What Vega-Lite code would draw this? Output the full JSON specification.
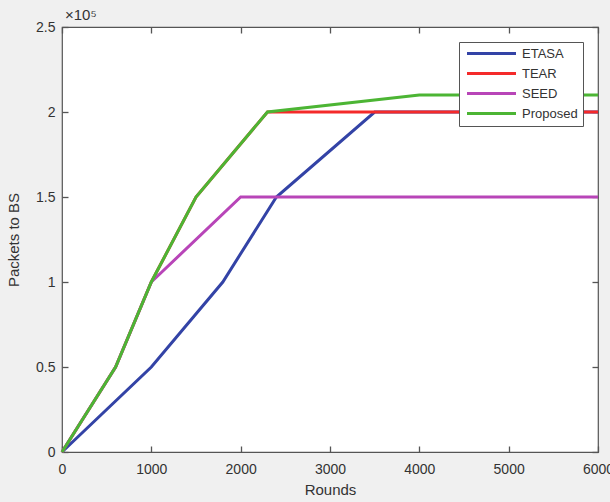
{
  "$schema": "https://vega.github.io/schema/vega-lite/v6.json",
  "width": 536,
  "height": 425,
  "autosize": {"type": "none"},
  "padding": {"left": 62, "top": 27, "right": 12, "bottom": 50},
  "background": "#f0f0f0",
  "title": {"text": "×10⁵", "anchor": "start", "frame": "group", "fontSize": 15, "fontWeight": "normal", "font": "Liberation Sans", "color": "#333333", "offset": 3, "dx": 3, "dy": 6},
  "config": {
    "view": {"fill": "white", "stroke": "#555555", "strokeWidth": 1.2},
    "font": "Liberation Sans",
    "axis": {"grid": false, "domain": false, "zindex": 1, "offset": -6, "ticks": true, "tickColor": "#555555", "tickSize": 6, "tickWidth": 1.3, "labelFont": "Liberation Sans", "labelFontSize": 14, "labelColor": "#333333", "labelFlush": false, "titleFont": "Liberation Sans", "titleFontSize": 15, "titleFontWeight": "normal", "titleColor": "#333333"}
  },
  "data": {"values": [
    {"series": "ETASA", "rounds": 0, "packets": 0},
    {"series": "ETASA", "rounds": 1000, "packets": 50000},
    {"series": "ETASA", "rounds": 1800, "packets": 100000},
    {"series": "ETASA", "rounds": 2400, "packets": 150000},
    {"series": "ETASA", "rounds": 3500, "packets": 200000},
    {"series": "ETASA", "rounds": 6000, "packets": 200000},
    {"series": "TEAR", "rounds": 0, "packets": 0},
    {"series": "TEAR", "rounds": 600, "packets": 50000},
    {"series": "TEAR", "rounds": 1000, "packets": 100000},
    {"series": "TEAR", "rounds": 1500, "packets": 150000},
    {"series": "TEAR", "rounds": 2300, "packets": 200000},
    {"series": "TEAR", "rounds": 6000, "packets": 200000},
    {"series": "SEED", "rounds": 0, "packets": 0},
    {"series": "SEED", "rounds": 600, "packets": 50000},
    {"series": "SEED", "rounds": 1000, "packets": 100000},
    {"series": "SEED", "rounds": 2000, "packets": 150000},
    {"series": "SEED", "rounds": 6000, "packets": 150000},
    {"series": "Proposed", "rounds": 0, "packets": 0},
    {"series": "Proposed", "rounds": 600, "packets": 50000},
    {"series": "Proposed", "rounds": 1000, "packets": 100000},
    {"series": "Proposed", "rounds": 1500, "packets": 150000},
    {"series": "Proposed", "rounds": 2300, "packets": 200000},
    {"series": "Proposed", "rounds": 4000, "packets": 210000},
    {"series": "Proposed", "rounds": 6000, "packets": 210000}
  ]},
  "encoding": {
    "color": {"field": "series", "type": "nominal",
      "scale": {"domain": ["ETASA", "TEAR", "SEED", "Proposed"], "range": ["#3343a6", "#f42a2a", "#b845b8", "#4cb534"]},
      "legend": {"title": null, "orient": "top-right", "offset": 15, "symbolType": "M-5,0H5", "symbolSize": 96, "symbolStrokeWidth": 3, "symbolOffset": 21, "labelFontSize": 13, "labelColor": "#333333", "fillColor": "white", "strokeColor": "#555555", "padding": 5, "rowPadding": 6, "labelOffset": 24}}
  },
  "resolve": {"axis": {"x": "independent", "y": "independent"}},
  "layer": [
    {"transform": [{"filter": "datum.series === 'ETASA'"}], "mark": {"type": "line", "strokeWidth": 3},
     "encoding": {
       "x": {"field": "rounds", "type": "quantitative", "scale": {"domain": [0, 6000], "nice": false}, "axis": {"orient": "bottom", "values": [0,1000,2000,3000,4000,5000,6000], "format": "d", "title": "Rounds", "labelPadding": 10, "titlePadding": 6}},
       "y": {"field": "packets", "type": "quantitative", "scale": {"domain": [0, 250000], "nice": false}, "axis": {"orient": "left", "values": [0,50000,100000,150000,200000,250000], "labelExpr": "datum.value/100000", "title": "Packets to BS", "labelPadding": 7, "titlePadding": 14}}
     }},
    {"transform": [{"filter": "datum.series === 'TEAR'"}], "mark": {"type": "line", "strokeWidth": 3},
     "encoding": {
       "x": {"field": "rounds", "type": "quantitative", "axis": {"orient": "top", "values": [0,1000,2000,3000,4000,5000,6000], "labels": false, "title": null}},
       "y": {"field": "packets", "type": "quantitative", "axis": {"orient": "right", "values": [0,50000,100000,150000,200000,250000], "labels": false, "title": null}}
     }},
    {"transform": [{"filter": "datum.series === 'SEED'"}], "mark": {"type": "line", "strokeWidth": 3},
     "encoding": {
       "x": {"field": "rounds", "type": "quantitative", "axis": null},
       "y": {"field": "packets", "type": "quantitative", "axis": null}
     }},
    {"transform": [{"filter": "datum.series === 'Proposed'"}], "mark": {"type": "line", "strokeWidth": 3},
     "encoding": {
       "x": {"field": "rounds", "type": "quantitative", "axis": null},
       "y": {"field": "packets", "type": "quantitative", "axis": null}
     }}
  ]
}
